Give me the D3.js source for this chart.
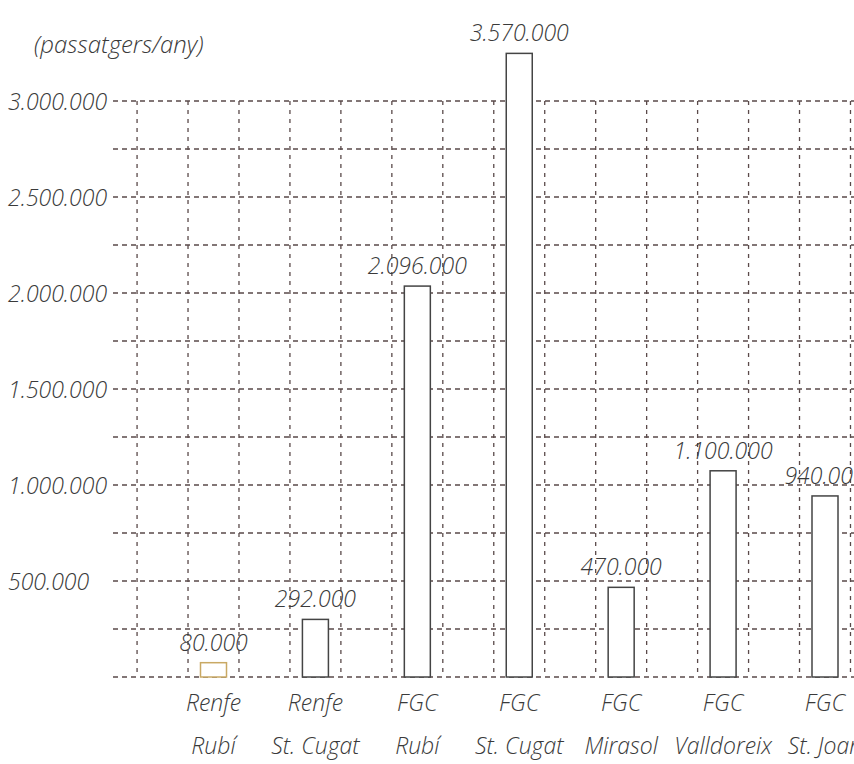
<!DOCTYPE html>
<html>
<head>
<meta charset="utf-8">
<script src="https://cdn.jsdelivr.net/npm/d3@7"></script>
<style>
  html, body { margin: 0; padding: 0; background: #ffffff; overflow: hidden; }
  svg { display: block; }
  text { font-family: "Open Sans", "Noto Sans", sans-serif; font-style: italic; font-weight: 300; fill: #3a3a3a; }
</style>
</head>
<body>
<svg id="chart" width="854" height="764"></svg>
<script>
// ---- data ----
const operators = ["Renfe", "Renfe", "FGC", "FGC", "FGC", "FGC", "FGC"];
const stations  = ["Rubí", "St. Cugat", "Rubí", "St. Cugat", "Mirasol", "Valldoreix", "St. Joan"];
const barValues = [74500, 300000, 2036000, 3248000, 467000, 1074000, 943000];
const valueLabels = ["80.000", "292.000", "2.096.000", "3.570.000", "470.000", "1.100.000", "940.000"];
const yTicks = [500000, 1000000, 1500000, 2000000, 2500000, 3000000];
const yTitle = "(passatgers/any)";

const categories = stations.map((s, i) => i);

// ---- layout ----
const svg = d3.select("#chart");
const plotLeft = 113, plotRight = 854;
const y = d3.scaleLinear().domain([0, 3000000]).range([677, 101]);
const x = d3.scalePoint().domain(categories).range([213.5, 825]);
const step = x.step();
const barW = 26;
const fmt = d3.formatLocale({ decimal: ",", thousands: ".", grouping: [3], currency: ["", ""] }).format(",d");
const gridColor = "#5a4a4a";
const fs = 23;

// horizontal grid lines (every 250.000)
const hGrid = d3.range(0, 3000001, 250000);
svg.append("g").selectAll("line").data(hGrid).join("line")
  .attr("x1", plotLeft).attr("x2", plotRight)
  .attr("y1", d => y(d)).attr("y2", d => y(d))
  .attr("stroke", gridColor).attr("stroke-width", 1.3)
  .attr("stroke-dasharray", "5,4");

// vertical grid lines (half-step, offset by a quarter step from centres)
const vGridPos = [x(0) - 3 * step / 4];
categories.forEach(c => { vGridPos.push(x(c) - step / 4, x(c) + step / 4); });
svg.append("g").selectAll("line").data(vGridPos).join("line")
  .attr("x1", d => d).attr("x2", d => d)
  .attr("y1", y(3000000)).attr("y2", y(0))
  .attr("stroke", gridColor).attr("stroke-width", 1.3)
  .attr("stroke-dasharray", "4,5");

// y tick labels
svg.append("g").selectAll("text").data(yTicks).join("text")
  .attr("x", 8).attr("y", d => y(d))
  .attr("dominant-baseline", "central")
  .attr("font-size", fs)
  .text(d => fmt(d));

// y title
svg.append("text").attr("x", 34).attr("y", 53).attr("font-size", 24).text(yTitle);

// bars
svg.append("g").selectAll("rect").data(categories).join("rect")
  .attr("x", i => x(i) - barW / 2)
  .attr("y", i => y(barValues[i]))
  .attr("width", barW)
  .attr("height", i => y(0) - y(barValues[i]))
  .attr("fill", "#ffffff")
  .attr("stroke", i => i === 0 ? "#c9a964" : "#444444")
  .attr("stroke-width", 1.5);

// value labels
svg.append("g").selectAll("text").data(categories).join("text")
  .attr("x", i => x(i)).attr("y", i => y(barValues[i]) - 12)
  .attr("text-anchor", "middle").attr("font-size", fs)
  .text(i => valueLabels[i]);

// category labels
const cat = svg.append("g");
cat.selectAll("text.op").data(categories).join("text").attr("class", "op")
  .attr("x", i => x(i)).attr("y", 711)
  .attr("text-anchor", "middle").attr("font-size", fs)
  .text(i => operators[i]);
cat.selectAll("text.st").data(categories).join("text").attr("class", "st")
  .attr("x", i => x(i)).attr("y", 754)
  .attr("text-anchor", "middle").attr("font-size", fs)
  .text(i => stations[i]);
</script>
</body>
</html>
